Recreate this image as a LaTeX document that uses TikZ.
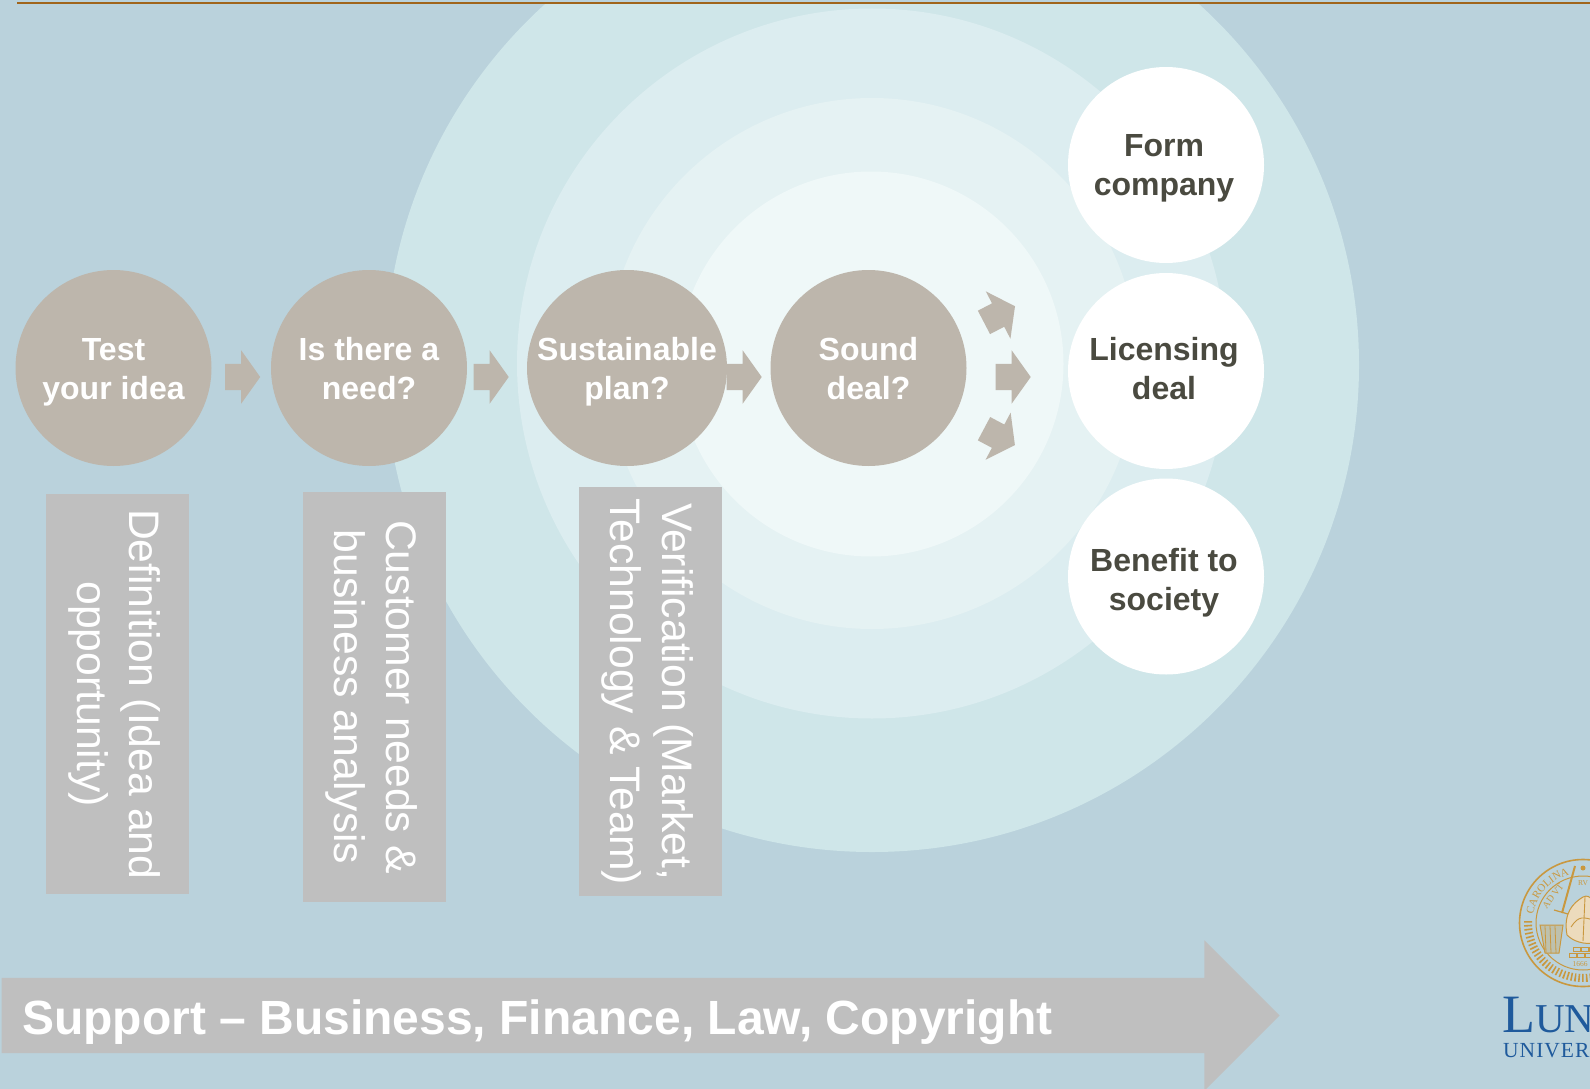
\documentclass[tikz,border=0pt]{standalone}
\usepackage{fontspec}
\setmainfont{Liberation Sans}
\newfontfamily\logoserif{Liberation Serif}
\usetikzlibrary{shapes.arrows,shapes.geometric,decorations.text}
\definecolor{bgblue}{HTML}{BAD2DC}
\definecolor{ringA}{HTML}{CFE6E9}
\definecolor{ringB}{HTML}{DCEDF0}
\definecolor{ringC}{HTML}{E5F2F3}
\definecolor{ringD}{HTML}{EFF8F8}
\definecolor{taupe}{HTML}{BDB6AC}
\definecolor{panel}{HTML}{BFBFBF}
\definecolor{darktext}{HTML}{4A4A40}
\definecolor{rulebrown}{HTML}{A0651C}
\definecolor{lublue}{HTML}{1F5A9C}
\definecolor{lugold}{HTML}{C9983F}
\tikzset{
  x=1pt,y=-1pt,
  stage/.style={circle,fill=taupe,minimum size=196pt,inner sep=0pt},
  stagetext/.style={text=white,inner sep=0pt,align=center,
    font=\fontsize{32}{38.8}\selectfont\bfseries},
  outcome/.style={circle,fill=white,minimum size=196pt,inner sep=0pt},
  outcometext/.style={text=darktext,inner sep=0pt,align=center,
    font=\fontsize{32}{38.8}\selectfont\bfseries},
  blockarrow/.style={single arrow,fill=taupe,minimum height=35pt,minimum width=53pt,
    single arrow head extend=13.5pt,single arrow tip angle=109,inner xsep=0pt,inner ysep=13pt},
  panelbox/.style={fill=panel,inner sep=0pt,anchor=north west},
  paneltext/.style={rotate=-90,text=white,align=center,inner sep=0pt,
    font=\fontsize{42.7}{52}\selectfont},
}
\begin{document}
\begin{tikzpicture}
\useasboundingbox (0,0) rectangle (1590,1089);
\fill[bgblue] (0,0) rectangle (1590,1089);
% concentric rings, cut off just under the rule
\begin{scope}
  \clip (0,5) rectangle (1590,1089);
  \fill[ringA] (872,365) circle[radius=487pt];
  \fill[ringB] (872,363.5) circle[radius=355pt];
  \fill[ringC] (872,363.5) circle[radius=265.5pt];
  \fill[ringD] (871,364) circle[radius=192.5pt];
\end{scope}
\fill[rulebrown] (16.5,2.3) rectangle (1590,4.4);

% stages
\node[stage] (test) at (113.5,368) {};
\node[stage] (need) at (369,368) {};
\node[stage,ellipse,minimum width=200pt,minimum height=196pt] (plan) at (627,368) {};
\node[stage] (deal) at (868.5,368) {};
\node[stagetext] (testtext) at ([yshift=-4pt]test.center) {\strut Test\\\strut your idea};
\node[stagetext] (needtext) at ([yshift=-4pt]need.center) {\strut Is there a\\\strut need?};
\node[stagetext] (plantext) at ([yshift=-4pt]plan.center) {\strut Sustainable\\\strut plan?};
\node[stagetext] (dealtext) at ([yshift=-4pt]deal.center) {\strut Sound\\\strut deal?};

% outcomes
\node[outcome] (form) at (1166,165) {};
\node[outcome] (lic) at (1166,371) {};
\node[outcome] (soc) at (1166,576.5) {};
\node[outcometext] (formtext) at ([xshift=-2pt,yshift=-3pt]form.center) {\strut Form\\\strut company};
\node[outcometext] (lictext) at ([xshift=-2pt,yshift=-1.5pt]lic.center) {\strut Licensing\\\strut deal};
\node[outcometext] (soctext) at ([xshift=-2pt,yshift=-6.5pt]soc.center) {\strut Benefit to\\\strut society};

% block arrows
\node[blockarrow] (a1) at (238,377) {};
\node[blockarrow] (a2) at (486.5,377) {};
\node[blockarrow] (a3) at (739.5,377) {};
\node[blockarrow] (a4) at (1008.5,377) {};
\node[blockarrow,rotate=27.5] (a5) at (995.3,316.5) {};
\node[blockarrow,rotate=-28] (a6) at (995.3,434.7) {};

% panels
\node[panelbox,minimum width=143pt,minimum height=400pt] (p1) at (45.6,494) {};
\node[panelbox,minimum width=143pt,minimum height=409.5pt] (p2) at (303,492) {};
\node[panelbox,minimum width=143pt,minimum height=409pt] (p3) at (579,487) {};
\node[paneltext] (t1) at ([xshift=-3.5pt]p1.center) {\strut Definition (Idea and\\\strut opportunity)};
\node[paneltext] (t2) at ([xshift=-3.5pt]p2.center) {\strut Customer needs \&\\\strut business analysis};
\node[paneltext] (t3) at ([xshift=-3.5pt]p3.center) {\strut Verification (Market,\\\strut Technology \& Team)};

% support arrow
\node[single arrow,fill=panel,minimum height=1278pt,minimum width=150pt,
  single arrow head extend=37.5pt,single arrow tip angle=90,inner xsep=0pt,inner ysep=37.5pt] (support) at (621.7,1015.5) {};
\node[anchor=base west,inner sep=0pt,text=white,font=\fontsize{48}{56}\selectfont\bfseries]
  (supporttext) at (22,1034) {Support – Business, Finance, Law, Copyright};

% logo
\begin{scope}
  \clip (1490,850) rectangle (1590,1089);
  \begin{scope}[shift={(1583,923)},y=1pt,x=1pt]
    \draw[lugold,line width=1.6pt] (0,0) circle[radius=63.5pt];
    \draw[lugold,line width=1pt] (0,0) circle[radius=47pt];
    \path[decorate,decoration={text along path,text align=center,
      text={|\logoserif\fontsize{11}{12}\selectfont\color{lugold}|CAROLINA}}]
      (178:50.5) arc[start angle=178,end angle=98,radius=50.5pt];
    \draw[lugold,line width=8pt,dash pattern=on 1.6pt off 2.2pt] (178:55) arc[start angle=178,end angle=285,radius=55pt];
    \node[text=lugold,inner sep=0pt,rotate=53,font=\logoserif\fontsize{9.5}{10}\selectfont] (advt) at (-30,27) {AD VT};
    \node[text=lugold,inner sep=0pt,font=\logoserif\fontsize{7.5}{8}\selectfont] (rv) at (0,40) {RV};
    \node[text=lugold,inner sep=0pt,font=\logoserif\fontsize{7.5}{8}\selectfont] (year) at (-3,-41) {1666};
    % sword
    \draw[lugold,line width=2pt] (-8,57) -- (-21,10);
    \draw[lugold,line width=1.2pt] (-29,13) -- (-15,9);
    % basket
    \draw[lugold,line width=1pt,fill=bgblue!70!lugold] (-43,-2) -- (-20,-2) -- (-24,-30) -- (-38,-30) -- cycle;
    \foreach \k in {-38,-33,-28} \draw[lugold,line width=.8pt] (\k,-3) -- (\k+1,-30);
    % figure
    \fill[lugold!35,draw=lugold,line width=1pt] (-16,-12) .. controls (-20,10) and (-10,20) .. (0,26)
      .. controls (8,30) and (12,20) .. (14,5) -- (14,-20) .. controls (0,-22) and (-10,-18) .. (-16,-12) -- cycle;
    \draw[lugold,line width=.9pt] (-12,-4) .. controls (-4,8) and (0,6) .. (14,2);
    \draw[lugold,line width=.9pt] (2,26) -- (0,-18);
    % stones
    \foreach \sx/\sy in {-10/-28,-2/-28,6/-28,-14/-34,-6/-34,2/-34}
      \draw[lugold,line width=.7pt] (\sx,\sy) rectangle +(7,4);
    \fill[lugold] (0,55) circle[radius=2.5pt];
  \end{scope}
  \node[anchor=base west,inner sep=0pt,text=lublue,font=\logoserif] (lund) at (1502,1032)
    {{\fontsize{54}{54}\selectfont L}{\fontsize{41}{41}\selectfont UN}};
  \node[anchor=base west,inner sep=0pt,text=lublue,font=\logoserif\fontsize{21.5}{22}\selectfont] (univ) at (1503,1057)
    {U\kern1pt N\kern1pt I\kern1pt V\kern1pt E\kern1pt R};
\end{scope}
\end{tikzpicture}
\end{document}
